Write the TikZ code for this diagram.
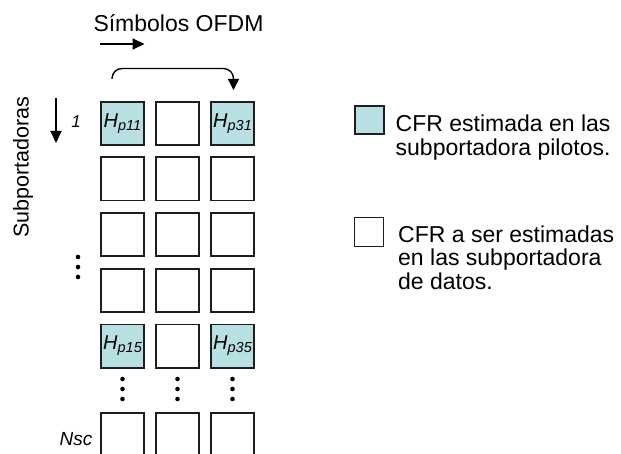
\documentclass[tikz,border=0pt]{standalone}
\usepackage{fontspec}
\setmainfont{Liberation Sans}
\usetikzlibrary{arrows.meta}
\definecolor{pilotfill}{RGB}{184,223,225}
\definecolor{edge}{RGB}{30,30,30}
\tikzset{
  cell/.style={draw=edge, line width=1.8pt, minimum size=43.2pt, inner sep=0pt, fill=white},
  pilot/.style={cell, fill=pilotfill, font=\fontsize{20}{22}\selectfont\itshape},
  dot/.style={circle, fill=black, inner sep=0pt, minimum size=4.6pt},
  arr/.style={line width=2pt, -{Triangle[width=11pt,length=12pt]}},
  legtext/.style={font=\fontsize{23}{23.5}\selectfont, align=left, inner sep=0pt, anchor=north west}
}
\newcommand{\hp}[1]{H\raisebox{-0.3ex}{\fontsize{14.5}{14.5}\selectfont #1}}
\begin{document}
\begin{tikzpicture}[x=1pt,y=-1pt]
  \useasboundingbox (0,0) rectangle (621,454);
  \clip (0,0) rectangle (621,454);

  % column heading and its arrow
  \node[font=\fontsize{23}{25}\selectfont, anchor=base] (sym) at (178.5,31.5) {Símbolos OFDM};
  \coordinate (ra) at (100,44);
  \coordinate (rb) at (144.5,44);
  \draw[arr] (ra) -- (rb);

  % row heading and its arrow
  \node[font=\fontsize{21.5}{23}\selectfont, rotate=90] (sub) at (23,167) {Subportadoras};
  \coordinate (da) at (56,98);
  \coordinate (db) at (56,143);
  \draw[arr] (da) -- (db);

  % grid of subcarrier cells
  \node[pilot] (c11) at (122.5,123.5) {\hp{p11}};
  \node[cell]  (c21) at (177.5,123.5) {};
  \node[pilot] (c31) at (232.5,123.5) {\hp{p31}};
  \foreach \r/\y in {2/179, 3/234.5, 4/290.5}{
    \node[cell] (c1\r) at (122.5,\y) {};
    \node[cell] (c2\r) at (177.5,\y) {};
    \node[cell] (c3\r) at (232.5,\y) {};
  }
  \node[pilot] (c15) at (122.5,346) {\hp{p15}};
  \node[cell]  (c25) at (177.5,346) {};
  \node[pilot] (c35) at (232.5,346) {\hp{p35}};
  \node[cell] (c1n) at (122.5,434.5) {};
  \node[cell] (c2n) at (177.5,434.5) {};
  \node[cell] (c3n) at (232.5,434.5) {};

  % row labels
  \node[font=\fontsize{17}{19}\selectfont\itshape] (r1) at (76,122) {1};
  \node[font=\fontsize{19}{21}\selectfont\itshape] (rn) at (76,439) {Nsc};

  % ellipsis dots
  \foreach \y [count=\i] in {257,267,277}{
    \node[dot] (ld\i) at (78,\y) {};
  }
  \foreach \x/\c in {122.5/a,177.5/b,232.5/c}{
    \foreach \y [count=\i] in {379,389,399}{
      \node[dot] (\c d\i) at (\x,\y) {};
    }
  }

  % pilot spacing arrow
  \draw[line width=1.4pt, rounded corners=10pt, -{Triangle[width=11pt,length=11pt]}]
    ([xshift=-10.5pt,yshift=22pt]c11.north) |- ([xshift=1pt,yshift=32.5pt]c31.north)
    -- ([xshift=1pt,yshift=11pt]c31.north);

  % legend
  \node[draw=edge, line width=1.6pt, fill=pilotfill, minimum size=28.5pt, inner sep=0pt] (lg1) at (369.5,120) {};
  \node[legtext] (lt1) at (395.5,115) {CFR estimada en las\\subportadora pilotos.};
  \node[draw=edge, line width=1.2pt, fill=white, minimum size=29pt, inner sep=0pt] (lg2) at (369,232) {};
  \node[legtext] (lt2) at (398,225.5) {CFR a ser estimadas\\en las subportadora\\de datos.};
\end{tikzpicture}
\end{document}
